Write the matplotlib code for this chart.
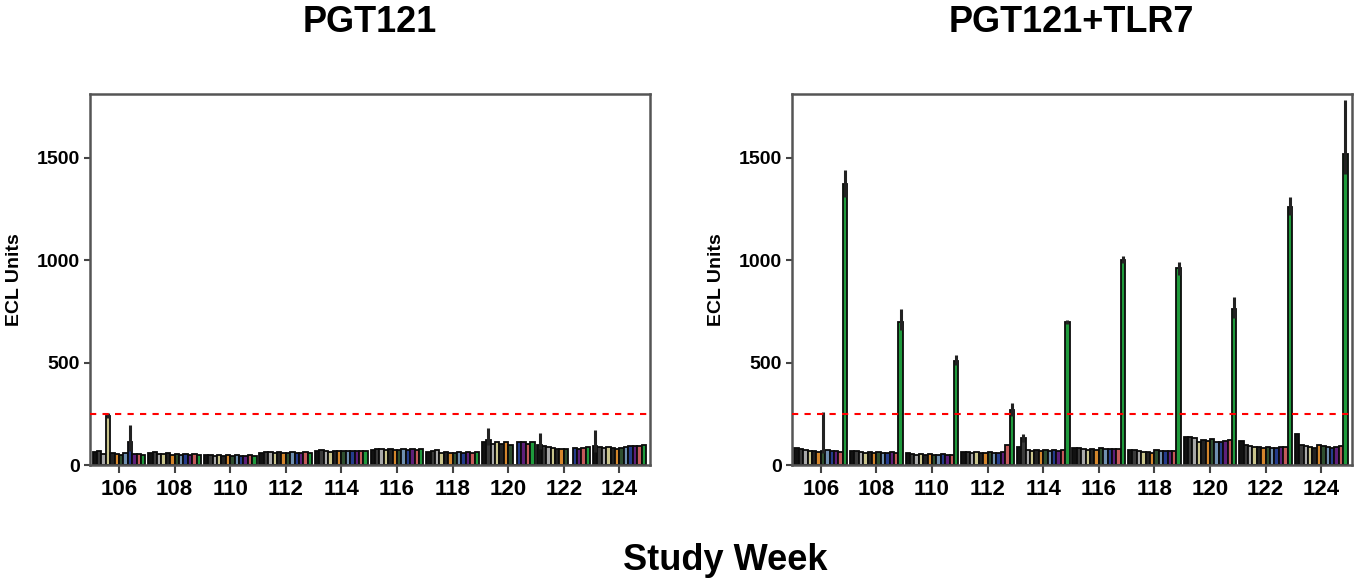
import matplotlib
matplotlib.use("Agg")
import matplotlib.pyplot as plt
import numpy as np

plt.rcParams["font.family"] = ["Liberation Sans", "DejaVu Sans"]
plt.rcParams["font.weight"] = "bold"

weeks = [106, 108, 110, 112, 114, 116, 118, 120, 122, 124]

series_colors = [
    "#111111", "#3a3a3a", "#a8a8a8", "#c9c48c", "#222222", "#d4862c",
    "#2f4f2f", "#6f8fb0", "#243c8c", "#5e1f7a", "#c45a5a", "#1f9a3c",
]

# one row per week, one value per series (ECL units)
pgt121_values = [
    [65, 70, 55, 240, 60, 55, 50, 60, 110, 55, 55, 50],
    [60, 65, 55, 55, 60, 50, 55, 50, 55, 50, 55, 50],
    [50, 48, 45, 48, 45, 50, 45, 48, 45, 45, 48, 45],
    [60, 65, 65, 60, 62, 60, 60, 62, 60, 60, 62, 60],
    [70, 75, 70, 65, 70, 68, 70, 68, 70, 68, 70, 68],
    [75, 80, 78, 75, 78, 75, 75, 78, 75, 78, 75, 78],
    [65, 70, 72, 60, 65, 60, 58, 62, 60, 62, 60, 65],
    [110, 120, 105, 110, 105, 110, 100, 0, 110, 110, 105, 110],
    [100, 95, 90, 85, 80, 80, 80, 0, 85, 80, 85, 90],
    [95, 90, 85, 90, 85, 80, 85, 90, 95, 95, 95, 100],
]

tlr7_values = [
    [85, 80, 75, 70, 70, 65, 70, 72, 70, 70, 65, 1370],
    [70, 70, 65, 60, 65, 60, 62, 60, 60, 62, 60, 700],
    [60, 55, 50, 55, 50, 55, 50, 50, 55, 50, 50, 510],
    [65, 62, 60, 62, 60, 60, 62, 60, 60, 62, 100, 270],
    [90, 130, 75, 70, 75, 70, 75, 70, 75, 70, 75, 700],
    [85, 85, 80, 75, 80, 75, 85, 80, 80, 80, 80, 1000],
    [75, 75, 70, 65, 65, 60, 75, 70, 70, 70, 70, 960],
    [135, 135, 130, 110, 120, 115, 125, 110, 110, 115, 120, 760],
    [115, 100, 95, 90, 90, 85, 90, 85, 85, 90, 90, 1260],
    [150, 100, 95, 90, 85, 100, 95, 90, 85, 90, 95, 1520],
]

# (week index, series index, lower error, upper error)
pgt121_errors = [
    (0, 3, 10, 15), (0, 8, 40, 85), (7, 1, 20, 60), (8, 0, 20, 55), (9, 0, 30, 75),
]
tlr7_errors = [
    (0, 6, 10, 190), (0, 11, 60, 70), (1, 11, 40, 60), (2, 11, 20, 25),
    (3, 11, 30, 35), (4, 1, 20, 20), (4, 11, 10, 10), (5, 11, 15, 20),
    (6, 11, 30, 30), (7, 11, 40, 60), (8, 11, 40, 50), (9, 11, 100, 260),
]

cutoff = 250
n_series = len(series_colors)
group_span = 1.9
bar_w = group_span / n_series


def bar_x(w, s):
    return weeks[w] - 0.95 + (s + 0.5) * bar_w


fig = plt.figure(figsize=(13.6, 5.82), dpi=100)
ax1 = fig.add_axes([0.066, 0.201, 0.412, 0.637])
ax2 = fig.add_axes([0.582, 0.201, 0.412, 0.637])

for ax, vals, errs in [(ax1, pgt121_values, pgt121_errors), (ax2, tlr7_values, tlr7_errors)]:
    for s in range(n_series):
        xs = [bar_x(w, s) for w in range(len(weeks))]
        hs = [row[s] for row in vals]
        ax.bar(xs, hs, width=bar_w, color=series_colors[s], edgecolor="#0a0a0a",
               linewidth=1.3, zorder=2)
    for w, s, lo, hi in errs:
        ax.errorbar(bar_x(w, s), vals[w][s], yerr=[[lo], [hi]], fmt="none",
                    ecolor="#222222", elinewidth=2.2, capsize=0, zorder=3)
    ax.axhline(cutoff, color="red", linestyle=(0, (3, 3)), linewidth=1.5, zorder=4)

    ax.set_xlim(104.95, 125.1)
    ax.set_ylim(0, 1810)
    ax.set_xticks(weeks)
    ax.set_yticks([0, 500, 1000, 1500])
    ax.tick_params(axis="x", labelsize=16, length=6, width=1.5, color="#444444", pad=4)
    ax.tick_params(axis="y", labelsize=14, length=4, width=1.5, color="#444444", pad=3)
    for lab in ax.get_xticklabels() + ax.get_yticklabels():
        lab.set_fontweight("bold")
    for sp in ax.spines.values():
        sp.set_color("#555555")
        sp.set_linewidth(1.8)
    ax.set_ylabel("ECL Units", fontsize=14, fontweight="bold", labelpad=10)

fig.text(0.272, 1 - 22 / 582, "PGT121", ha="center", va="center", fontsize=26, fontweight="bold")
fig.text(0.788, 1 - 22 / 582, "PGT121+TLR7", ha="center", va="center", fontsize=26, fontweight="bold")
fig.text(0.533, 1 - 560 / 582, "Study Week", ha="center", va="center", fontsize=26, fontweight="bold")

fig.savefig("out.png", dpi=100)
